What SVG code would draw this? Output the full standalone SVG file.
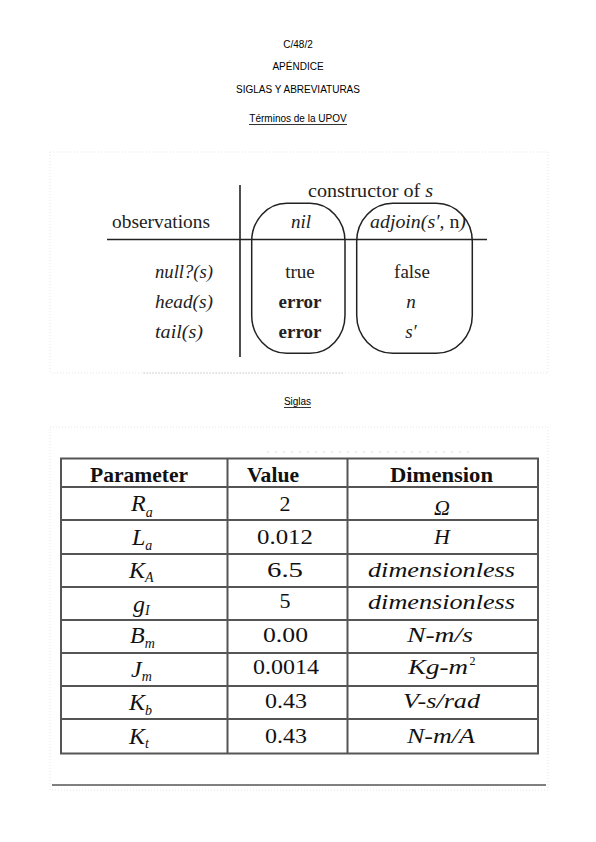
<svg xmlns="http://www.w3.org/2000/svg" width="596" height="842" viewBox="0 0 596 842">
<style>
.hd{font-family:"Liberation Sans",Arial,sans-serif;font-size:10px;fill:#000;text-anchor:middle}
.cm{font-family:"Liberation Serif","Times New Roman",serif;font-size:19px;fill:#222}
.it{font-style:italic}
.b{font-weight:bold}
.mid{text-anchor:middle}
.ln{stroke:#222;stroke-width:1.6;fill:none}
.box{stroke:#222;stroke-width:1.5;fill:none}
.frame{fill:none;stroke:#e6e6e6;stroke-width:1;stroke-dasharray:1 2}
.tl{stroke:#555;stroke-width:2;fill:none}
.tt{font-family:"Liberation Serif","Times New Roman",serif;font-size:22px;fill:#111}
.sup{font-family:"Liberation Serif","Times New Roman",serif;font-size:12px;fill:#111}
.pm{font-family:"Liberation Serif","Times New Roman",serif;font-size:24px;font-style:italic;fill:#111}
.sb{font-size:14px}
.th{font-family:"Liberation Serif","Times New Roman",serif;font-size:21px;font-weight:bold;fill:#111}
</style>
<rect width="596" height="842" fill="#fff"/>
<g id="header">
<text class="hd" x="298" y="48">C/48/2</text>
<text class="hd" x="298" y="70">APÉNDICE</text>
<text class="hd" x="298" y="93">SIGLAS Y ABREVIATURAS</text>
<text class="hd" x="298" y="122">Términos de la UPOV</text>
<line x1="249" y1="124.5" x2="347" y2="124.5" stroke="#000" stroke-width="0.8"/>
<text class="hd" x="297.5" y="405">Siglas</text>
<line x1="284" y1="407.5" x2="311" y2="407.5" stroke="#000" stroke-width="0.8"/>
</g>
<g id="figure1">
<rect class="frame" x="50" y="152" width="498" height="221"/>
<line x1="143" y1="373" x2="343" y2="373" stroke="#d8d8d8" stroke-width="1" stroke-dasharray="2 1"/>
<line class="ln" x1="240" y1="185" x2="240" y2="357"/>
<line class="ln" x1="107" y1="239.5" x2="487" y2="239.5"/>
<rect id="nil-box" class="box" x="251.7" y="203.3" width="93.3" height="150" rx="35" ry="38"/>
<rect id="adjoin-box" class="box" x="356.7" y="203.3" width="115.6" height="150" rx="36" ry="38"/>
<text class="cm" x="308" y="197" textLength="125" lengthAdjust="spacingAndGlyphs">constructor of <tspan class="it">s</tspan></text>
<text class="cm" x="112" y="228" textLength="98" lengthAdjust="spacingAndGlyphs">observations</text>
<text class="cm it mid" x="301" y="228">nil</text>
<text class="cm it" x="370" y="228" textLength="96" lengthAdjust="spacingAndGlyphs">adjoin(s′, <tspan font-style="normal">n</tspan>)</text>
<text class="cm it" x="155" y="278" textLength="58" lengthAdjust="spacingAndGlyphs">null?(s)</text>
<text class="cm it" x="155" y="308" textLength="58" lengthAdjust="spacingAndGlyphs">head(s)</text>
<text class="cm it" x="155" y="338" textLength="48" lengthAdjust="spacingAndGlyphs">tail(s)</text>
<text class="cm mid" x="300" y="278">true</text>
<text class="cm mid" x="412" y="278">false</text>
<text class="cm b mid" x="300" y="308">error</text>
<text class="cm b mid" x="300" y="338">error</text>
<text class="cm it mid" x="411" y="308">n</text>
<text class="cm it mid" x="411" y="338">s′</text>
</g>
<g id="figure2">
<rect class="frame" x="50" y="427" width="498" height="363"/>
<line x1="267" y1="452" x2="473" y2="452" stroke="#dcdcdc" stroke-width="1" stroke-dasharray="2 6"/>
<g id="table-grid">
<rect class="tl" x="61" y="458.5" width="477" height="295"/>
<line class="tl" x1="227.5" y1="458.5" x2="227.5" y2="753.5"/>
<line class="tl" x1="347.5" y1="458.5" x2="347.5" y2="753.5"/>
<line class="tl" x1="61" y1="487" x2="538" y2="487"/>
<line class="tl" x1="61" y1="520" x2="538" y2="520"/>
<line class="tl" x1="61" y1="554" x2="538" y2="554"/>
<line class="tl" x1="61" y1="587" x2="538" y2="587"/>
<line class="tl" x1="61" y1="620" x2="538" y2="620"/>
<line class="tl" x1="61" y1="653" x2="538" y2="653"/>
<line class="tl" x1="61" y1="686" x2="538" y2="686"/>
<line class="tl" x1="61" y1="719" x2="538" y2="719"/>
</g>
<g id="table-header">
<text class="th" x="90" y="482" textLength="98" lengthAdjust="spacingAndGlyphs">Parameter</text>
<text class="th" x="247" y="482" textLength="52" lengthAdjust="spacingAndGlyphs">Value</text>
<text class="th" x="390" y="482" textLength="103" lengthAdjust="spacingAndGlyphs">Dimension</text>
</g>
<g id="param-col">
<text class="pm" x="131" y="511">R<tspan class="sb" dy="5.5">a</tspan></text>
<text class="pm" x="132" y="545">L<tspan class="sb" dy="4.5">a</tspan></text>
<text class="pm" x="129" y="578.3">K<tspan class="sb" dy="3.5">A</tspan></text>
<text class="pm" x="133" y="611.5">g<tspan class="sb" dy="3.5">I</tspan></text>
<text class="pm" x="130" y="643.3">B<tspan class="sb" dy="5">m</tspan></text>
<text class="pm" x="131" y="676.7">J<tspan class="sb" dy="4">m</tspan></text>
<text class="pm" x="129" y="710">K<tspan class="sb" dy="5">b</tspan></text>
<text class="pm" x="129" y="744">K<tspan class="sb" dy="4">t</tspan></text>
</g>
<g id="value-col">
<text class="tt mid" x="285" y="510.5">2</text>
<text class="tt" x="257" y="544" textLength="56" lengthAdjust="spacingAndGlyphs">0.012</text>
<text class="tt" x="267" y="576.7" textLength="36" lengthAdjust="spacingAndGlyphs">6.5</text>
<text class="tt mid" x="285" y="608.3">5</text>
<text class="tt" x="263" y="641.7" textLength="45" lengthAdjust="spacingAndGlyphs">0.00</text>
<text class="tt" x="253" y="674" textLength="66" lengthAdjust="spacingAndGlyphs">0.0014</text>
<text class="tt" x="265" y="708.3" textLength="42" lengthAdjust="spacingAndGlyphs">0.43</text>
<text class="tt" x="265" y="742.5" textLength="42" lengthAdjust="spacingAndGlyphs">0.43</text>
</g>
<g id="dimension-col">
<text class="tt it mid" x="442" y="515">Ω</text>
<text class="tt it mid" x="442" y="544">H</text>
<text class="tt it" x="368" y="576.7" textLength="147" lengthAdjust="spacingAndGlyphs">dimensionless</text>
<text class="tt it" x="368" y="608.5" textLength="147" lengthAdjust="spacingAndGlyphs">dimensionless</text>
<text class="tt it" x="407" y="641.7" textLength="66" lengthAdjust="spacingAndGlyphs">N-m/s</text>
<text class="tt it" x="408" y="674" textLength="60" lengthAdjust="spacingAndGlyphs">Kg-m</text><text class="sup" x="469.5" y="665">2</text>
<text class="tt it" x="403" y="708.3" textLength="77" lengthAdjust="spacingAndGlyphs">V-s/rad</text>
<text class="tt it" x="407" y="742.5" textLength="68" lengthAdjust="spacingAndGlyphs">N-m/A</text>
</g>
</g>
<line id="rule" x1="52" y1="785" x2="546" y2="785" stroke="#000" stroke-width="1"/>
</svg>
